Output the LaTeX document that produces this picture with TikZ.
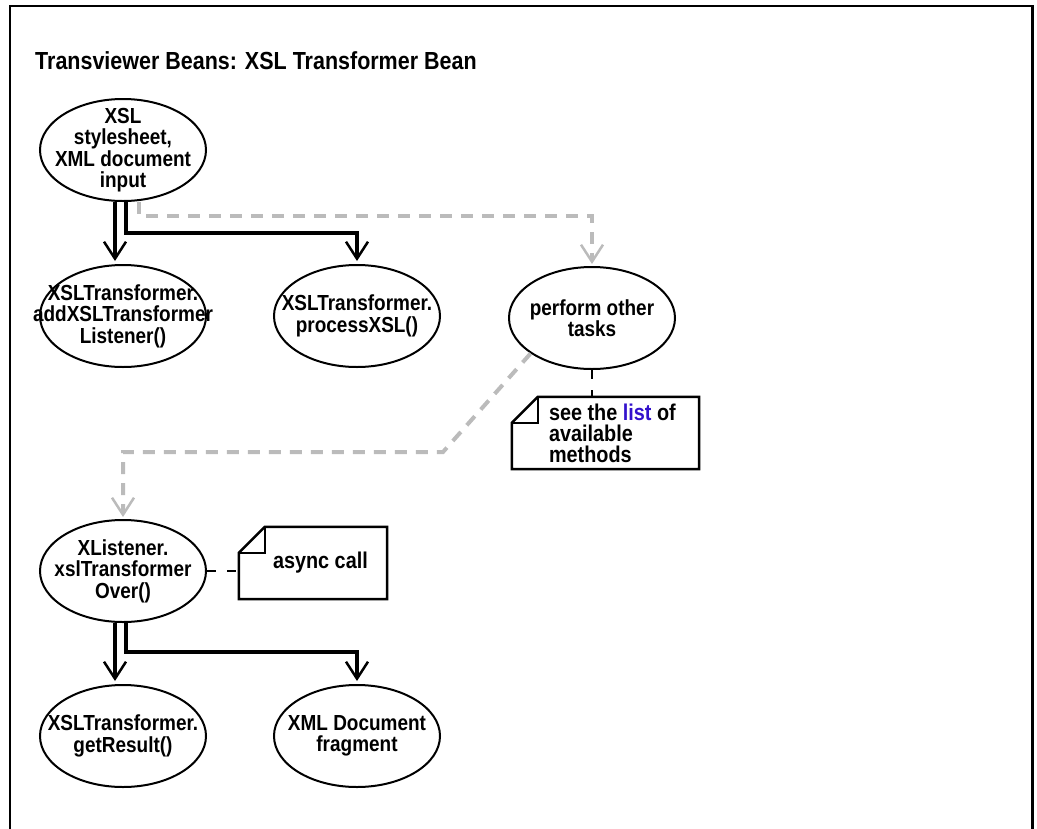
\documentclass[tikz,border=0pt]{standalone}
\usepackage{fontspec}
\setsansfont{Liberation Sans}[FakeStretch=0.87]
\usepackage{tikz}
\usetikzlibrary{positioning,shapes.geometric,arrows.meta}
\definecolor{BeanGray}{HTML}{BBBBBB}
\definecolor{BeanLink}{HTML}{3311CC}

\begin{document}
\begin{tikzpicture}[x=1pt,y=-1pt,
  bean/.style={ellipse,draw,line width=2pt,minimum width=166pt,minimum height=102pt,
    inner sep=0pt,label={[beantext]center:#1}},
  beantext/.style={font=\sffamily\bfseries\fontsize{21.8}{21.5}\selectfont,align=center,inner sep=0pt},
  notebox/.style={minimum width=#1,minimum height=72pt,inner sep=0pt},
  notetext/.style={font=\sffamily\bfseries\fontsize{22.8}{21}\selectfont,align=left,inner sep=0pt},
  flow/.style={line width=4pt,shorten >=3pt,
    -{Straight Barb[length=17pt,width=22pt,line width=2.5pt]}},
  other/.style={BeanGray,line width=4pt,dash pattern=on 12pt off 9pt,shorten >=2pt,
    -{Straight Barb[length=17pt,width=22pt,line width=2.5pt]}},
  link/.style={line width=2.5pt,dash pattern=on 9pt off 11pt}]
  \useasboundingbox (0,0) rectangle (1037,828);
  \draw[line width=2pt] (10,829) -- (10,6) -- (1032,6);
  \draw[line width=3pt] (1032,5) -- (1032,829);
  \node[font=\sffamily\bfseries\fontsize{24.7}{28}\selectfont,anchor=base west,inner sep=0pt]
    (title) at (35,69) {Transviewer Beans: XSL Transformer Bean};

  \node[bean={XSL\\stylesheet,\\XML document\\input}] (in) at (123,150) {};
  \node[bean={XSLTransformer.\\addXSLTransformer\\Listener()}] (add) at (123,316) {};
  \node[bean={XSLTransformer.\\processXSL()}] (proc) at (357,316) {};
  \node[bean={perform other\\tasks}] (tasks) at (592,318) {};
  \node[bean={XListener.\\xslTransformer\\Over()}] (xl) at (123,571) {};
  \node[bean={XSLTransformer.\\getResult()}] (res) at (123,736) {};
  \node[bean={XML Document\\fragment}] (frag) at (357,736) {};

  \node[notebox=187pt] (lstbox) at (605.5,433) {};
  \node[notetext,right=37pt of lstbox.west] (lst)
    {see the \textcolor{BeanLink}{list} of\\available\\methods};
  \node[notebox=148pt] (asyncbox) at (313,563) {};
  \node[notetext,right=34pt of asyncbox.west] (async) {async call};
  \foreach \n in {lstbox,asyncbox} {
    \draw[line width=2.5pt] ([xshift=26pt]\n.north west) -- (\n.north east) -- (\n.south east)
      -- (\n.south west) -- ([yshift=-26pt]\n.north west) -- cycle;
    \draw[line width=2.5pt] ([yshift=-26pt]\n.north west) -| ([xshift=26pt]\n.north west);
  }

  \draw[flow] ([xshift=-8pt]in.south) -- ([xshift=-8pt]add.north);
  \draw[flow] ([xshift=3pt]in.south) -- ++(0,31) -| (proc.north);
  \draw[flow] ([xshift=-8pt]xl.south) -- ([xshift=-8pt]res.north);
  \draw[flow] ([xshift=3pt]xl.south) -- ++(0,29) -| (frag.north);

  \draw[other] ([xshift=16pt]in.south) -- ++(0,14) -| (tasks.north);
  \coordinate (turn) at (443,452);
  \draw[other] (tasks.210) -- (turn) -| (xl.north);

  \draw[link] (tasks.south) -- (tasks.south |- lstbox.north);
  \draw[link] (xl.east) -- (xl.east -| asyncbox.west);
\end{tikzpicture}
\end{document}
